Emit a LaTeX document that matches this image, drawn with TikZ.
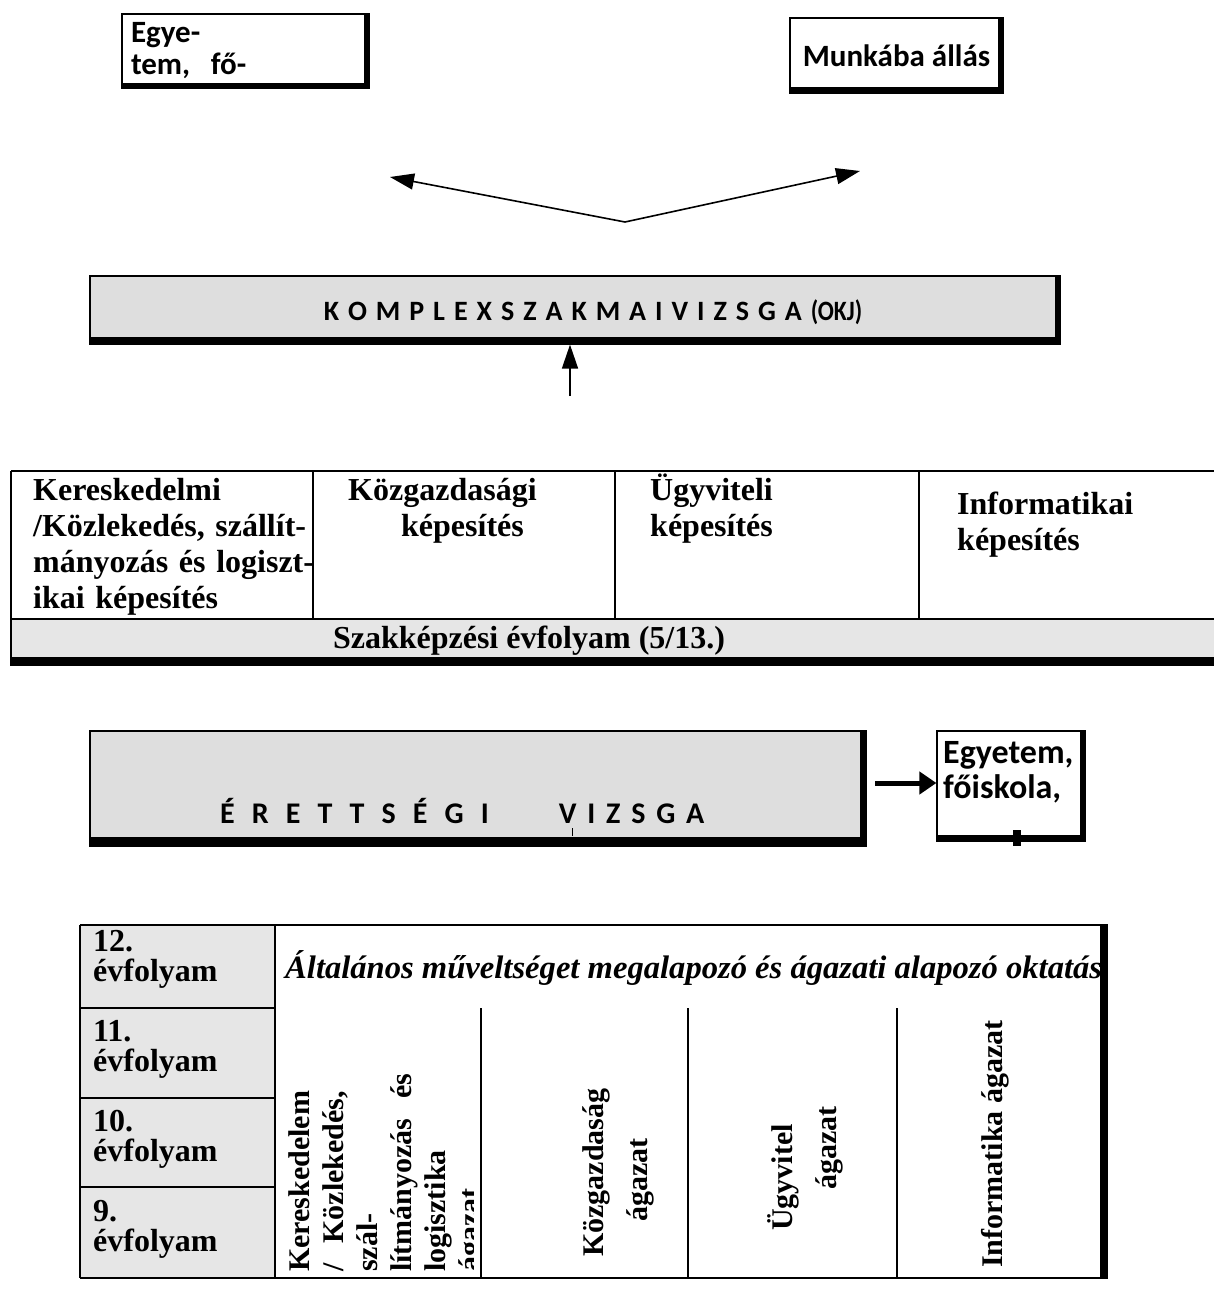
\documentclass[tikz,border=0pt]{standalone}
\usepackage{fontspec}
\usepackage{graphicx}
\setmainfont{Liberation Serif}
\newfontfamily\calib{Carlito}
\usetikzlibrary{arrows.meta,calc}
\definecolor{boxgray}{HTML}{DEDEDE}
\definecolor{cellgray}{HTML}{E6E6E6}
\begin{document}
\begin{tikzpicture}[x=1pt,y=-1pt,
  shadowbox/.style 2 args={draw=black, line width=1.2pt, inner sep=0pt,
    path picture={
      \fill[black] ([xshift=-#1]path picture bounding box.north east) rectangle (path picture bounding box.south east);
      \fill[black] ([yshift=#2]path picture bounding box.south west) rectangle (path picture bounding box.south east);}},
  cal/.style={font=\calib\bfseries\fontsize{31}{32}\selectfont},
  calsp/.style={font=\calib\bfseries\fontsize{28}{30}\selectfont, inner sep=0pt},
  tim/.style={font=\bfseries\fontsize{32}{36}\selectfont, inner sep=0pt},
  rot/.style={font=\bfseries\fontsize{30}{34}\selectfont, inner sep=0pt, rotate=90, anchor=base west},
  tline/.style={line width=2pt},
  arr/.style={line width=1.6pt, -{Triangle[length=24pt,width=16pt]}},
]
\path[use as bounding box, fill=white] (0,0) rectangle (1214,1292);

% top boxes
\node[shadowbox={5pt}{5pt}, cal, minimum width=247pt, minimum height=74pt,
      text width=229pt, align=left] (b1) at (245.5,51) {Egye-\\tem,\ \ fő-};
\node[shadowbox={5pt}{6pt}, cal, minimum width=213pt, minimum height=75pt] (b2) at (896.5,55.5) {Munkába állás};

% diverging arrows
\coordinate (fork) at (625,222);
\coordinate (tipL) at (390,177);
\coordinate (tipR) at (860,171);
\draw[arr] (fork) -- (tipL);
\draw[arr] (fork) -- (tipR);

% komplex exam
\node[shadowbox={5pt}{7pt}, fill=boxgray, minimum width=970pt, minimum height=68pt] (komplex) at (575,310) {};
\node[calsp, anchor=base] (komplextxt) at (593,320)
  {{\spaceskip=0.32em K O M P L E X S Z A K M A I V I Z S G A \scalebox{0.85}[1]{(OKJ)}}};
\coordinate (upfrom) at (570,396);
\draw[arr] (upfrom) -- (upfrom |- komplex.south);

% upper table
\fill[cellgray] (12,620) rectangle (1214,657);
\draw[tline] (11,471) -- (1214,471);
\draw[tline] (11,471) -- (11,666);
\draw[tline] (313,471) -- (313,619);
\draw[tline] (615,471) -- (615,619);
\draw[tline] (919,471) -- (919,619);
\draw[tline] (11,619) -- (1214,619);
\fill[black] (10,657) rectangle (1214,666);

\node[tim, anchor=base west, text width=277pt, align=left] (q1) at (33,500)
  {Kereskedelmi\\\makebox[277pt][s]{/Közlekedés, szállít-}\\\makebox[277pt][s]{mányozás és logiszt-}\\ikai képesítés};
\node[tim, anchor=base west, text width=250pt, align=left] (q2) at (348,500)
  {Közgazdasági\\\hspace*{53pt}képesítés};
\node[tim, anchor=base west, text width=250pt, align=left] (q3) at (650,500)
  {Ügyviteli\\képesítés};
\node[tim, anchor=base west, text width=250pt, align=left] (q4) at (957,514)
  {Informatikai\\képesítés};
\node[tim, anchor=base] (q5) at (529,648) {Szakképzési évfolyam (5/13.)};

% erettsegi
\node[shadowbox={6pt}{9pt}, fill=boxgray, minimum width=776pt, minimum height=115pt] (erett) at (478,788.5) {};
\node[font=\calib\bfseries\fontsize{30}{32}\selectfont, inner sep=0pt, anchor=base west] (erettxt) at (220,823)
  {{\spaceskip=0.57em É R E T T S É G I}\hspace{70pt}{\spaceskip=0.36em V I Z S G A}};
\draw[line width=1pt] (572,828) -- (572,836);

\node[shadowbox={5pt}{6pt}, minimum width=148pt, minimum height=110pt] (uni) at (1011,786) {};
\fill[black] (1013,830) rectangle (1021,846);
\node[font=\calib\bfseries\fontsize{34}{35}\selectfont, inner sep=0pt, anchor=base west,
      text width=140pt, align=left] (unitxt) at (943,763) {Egyetem,\\főiskola,};
\coordinate (rafrom) at (875,783);
\draw[line width=5pt, -{Triangle[length=17pt,width=22pt]}] (rafrom) -- (rafrom -| uni.west);

% lower table
\fill[cellgray] (80,925) rectangle (275,1278);
\draw[tline] (80,925) -- (1104,925);
\draw[tline] (80,925) -- (80,1278);
\draw[tline] (80,1278) -- (1104,1278);
\draw[tline] (275,925) -- (275,1278);
\draw[tline] (80,1008) -- (275,1008);
\draw[tline] (80,1098) -- (275,1098);
\draw[tline] (80,1187) -- (275,1187);
\draw[tline] (481,1008) -- (481,1278);
\draw[tline] (688,1008) -- (688,1278);
\draw[tline] (897,1008) -- (897,1278);
\fill[black] (1100,924) rectangle (1108,1279);

\node[tim, font=\bfseries\fontsize{32}{30}\selectfont, anchor=base west, text width=180pt, align=left] (y12) at (93,951) {12.\\évfolyam};
\node[tim, font=\bfseries\fontsize{32}{30}\selectfont, anchor=base west, text width=180pt, align=left] (y11) at (93,1041) {11.\\évfolyam};
\node[tim, font=\bfseries\fontsize{32}{30}\selectfont, anchor=base west, text width=180pt, align=left] (y10) at (93,1131) {10.\\évfolyam};
\node[tim, font=\bfseries\fontsize{32}{30}\selectfont, anchor=base west, text width=180pt, align=left] (y9) at (93,1221) {9.\\évfolyam};

\node[font=\bfseries\itshape\fontsize{32.6}{36}\selectfont, inner sep=0pt, anchor=base west] (hdr) at (285,978)
  {Általános műveltséget megalapozó és ágazati alapozó oktatás};

\begin{scope}
\clip (277,1009) rectangle (473,1277);
\node[rot, text width=195pt, align=left] (ra) at (309,1272)
  {Kereskedelem\\\makebox[195pt][s]{/ \ Közlekedés,}\\szál-\\\makebox[195pt][s]{lítmányozás \ és}\\logisztika\\ágazat};
\end{scope}
\node[rot, font=\bfseries\fontsize{30}{44}\selectfont, text width=200pt, align=left] (rb) at (603,1257) {Közgazdaság\\\hspace*{35pt}ágazat};
\node[rot, font=\bfseries\fontsize{30}{44}\selectfont, text width=200pt, align=left] (rc) at (792,1231) {Ügyvitel\\\hspace*{41pt}ágazat};
\node[rot] (rd) at (1002,1268) {Informatika ágazat};
\end{tikzpicture}
\end{document}
